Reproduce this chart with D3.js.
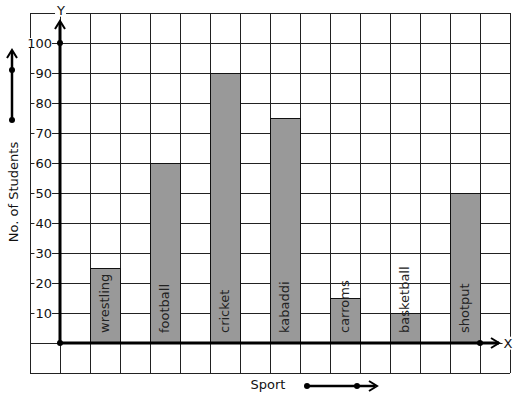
<!DOCTYPE html>
<html>
<head>
<meta charset="utf-8">
<script src="https://cdn.jsdelivr.net/npm/d3@7"></script>
<style>
  body { margin: 0; background: #fff; }
  svg { display: block; font-family: "DejaVu Sans", sans-serif; }
  .grid line { stroke: #222; stroke-width: 1; shape-rendering: crispEdges; }
  .axis-line { stroke: #000; stroke-width: 3; }
  .arrow { fill: none; stroke: #000; stroke-width: 2; }
  .bar { fill: #999; stroke: #111; stroke-width: 1; shape-rendering: crispEdges; }
  .bar-label { font-size: 13px; fill: #222; }
  .tick-label { font-size: 13px; fill: #111; }
</style>
</head>
<body>
<div id="chart"></div>
<script>
// data
const sports = ['wrestling', 'football', 'cricket', 'kabaddi', 'carroms', 'basketball', 'shotput'];
const students = [25, 60, 90, 75, 15, 10, 50];
const yTicks = [10, 20, 30, 40, 50, 60, 70, 80, 90, 100];

const W = 517, H = 399;
const svg = d3.select('#chart').append('svg').attr('width', W).attr('height', H);

// graph paper: 16 x 12 squares of 30px, origin one square in from bottom-left
const gx = d3.scaleLinear().domain([-1, 15]).range([30, 510]);
const y = d3.scaleLinear().domain([0, 100]).range([343, 43]);
const x = d3.scaleBand().domain(sports).range([gx(1), gx(14)]).paddingInner(0.5).paddingOuter(0);

const grid = svg.append('g').attr('class', 'grid');
grid.selectAll('line.v')
  .data(d3.range(-1, 16))
  .join('line')
  .attr('class', 'v')
  .attr('x1', (d) => gx(d)).attr('x2', (d) => gx(d))
  .attr('y1', y(110)).attr('y2', y(-10));
grid.selectAll('line.h')
  .data(d3.range(-10, 111, 10))
  .join('line')
  .attr('class', 'h')
  .attr('x1', gx(-1)).attr('x2', gx(15))
  .attr('y1', (d) => y(d)).attr('y2', (d) => y(d));

// bars
svg.selectAll('rect.bar')
  .data(sports)
  .join('rect')
  .attr('class', 'bar')
  .attr('x', (d) => x(d))
  .attr('y', (d, i) => y(students[i]))
  .attr('width', x.bandwidth())
  .attr('height', (d, i) => y(0) - y(students[i]));

// sport names written up the bars
svg.selectAll('text.bar-label')
  .data(sports)
  .join('text')
  .attr('class', 'bar-label')
  .attr('transform', (d) => `translate(${x(d) + x.bandwidth() / 2 - 1},${y(0) - 10}) rotate(-90)`)
  .attr('dy', '0.35em')
  .text((d) => d);

// y tick labels, white-backed so the grid shows as little dashes
const ticks = svg.append('g');
yTicks.forEach((t) => {
  const tg = ticks.append('g').attr('transform', `translate(52,${y(t)})`);
  const txt = tg.append('text').attr('class', 'tick-label')
    .attr('text-anchor', 'end').attr('dy', '0.36em').text(t);
  const bb = txt.node().getBBox();
  tg.insert('rect', 'text')
    .attr('x', bb.x - 1).attr('y', -5).attr('width', bb.width + 1).attr('height', 10)
    .attr('fill', '#fff');
});

// axes with open arrowheads
const x0 = gx(0), y0 = y(0);
svg.append('line').attr('class', 'axis-line')
  .attr('x1', x0).attr('x2', x0).attr('y1', y0).attr('y2', 22);
svg.append('path').attr('class', 'arrow')
  .attr('d', `M${x0 - 5},${29} L${x0},${21} L${x0 + 5},${29}`);
svg.append('line').attr('class', 'axis-line')
  .attr('x1', x0).attr('x2', 499).attr('y1', y0).attr('y2', y0);
svg.append('path').attr('class', 'arrow')
  .attr('d', `M${491},${y0 - 5} L${499},${y0} L${491},${y0 + 5}`);

[[x0, y0], [x0, y(100)], [gx(14), y0]].forEach(([cx, cy]) => {
  svg.append('circle').attr('cx', cx).attr('cy', cy).attr('r', 3).attr('fill', '#000');
});

// axis letters
function boxedLabel(px, py, s) {
  const g = svg.append('g').attr('transform', `translate(${px},${py})`);
  const t = g.append('text').attr('text-anchor', 'middle').attr('dy', '0.36em')
    .attr('font-size', 13).attr('fill', '#111').text(s);
  const bb = t.node().getBBox();
  g.insert('rect', 'text').attr('x', bb.x - 1).attr('y', bb.y + 1)
    .attr('width', bb.width + 2).attr('height', bb.height - 2).attr('fill', '#fff');
}
boxedLabel(x0 + 1, 10, 'Y');
boxedLabel(508, y0, 'X');

// axis titles
svg.append('text')
  .attr('transform', 'translate(13,192) rotate(-90)')
  .attr('text-anchor', 'middle').attr('dy', '0.35em')
  .attr('font-size', 13).attr('fill', '#111')
  .text('No. of Students');
svg.append('text')
  .attr('x', 268).attr('y', 389)
  .attr('text-anchor', 'middle')
  .attr('font-size', 13).attr('fill', '#111')
  .text('Sport');

// direction hints beside the titles
svg.append('line').attr('stroke', '#000').attr('stroke-width', 2.5)
  .attr('x1', 12).attr('x2', 12).attr('y1', 120).attr('y2', 52);
svg.append('path').attr('class', 'arrow').attr('d', 'M7,58 L12,50 L17,58');
svg.append('line').attr('stroke', '#000').attr('stroke-width', 2.5)
  .attr('x1', 307).attr('x2', 375).attr('y1', 386).attr('y2', 386);
svg.append('path').attr('class', 'arrow').attr('d', 'M369,381 L377,386 L369,391');
[[12, 70], [12, 120], [307, 386], [357, 386]].forEach(([cx, cy]) => {
  svg.append('circle').attr('cx', cx).attr('cy', cy).attr('r', 3).attr('fill', '#000');
});
</script>
</body>
</html>
